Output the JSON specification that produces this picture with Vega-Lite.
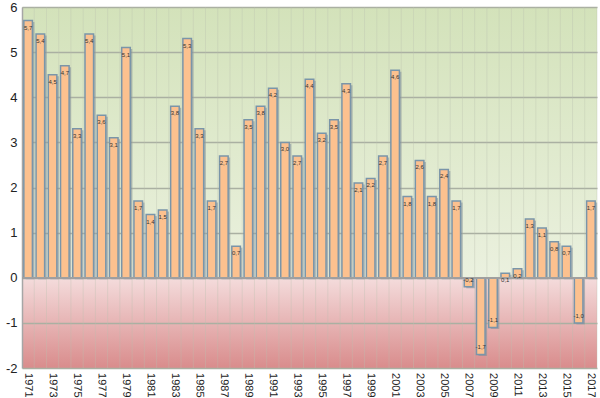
{
  "$schema": "https://vega.github.io/schema/vega-lite/v6.json",
  "width": 575,
  "height": 361,
  "autosize": {"type": "none"},
  "padding": {"left": 22, "top": 7, "right": 3, "bottom": 30},
  "background": "white",
  "view": {
    "stroke": null,
    "fill": {
      "gradient": "linear", "x1": 0, "y1": 0, "x2": 0, "y2": 1,
      "stops": [
        {"offset": 0, "color": "#d3e2ba"},
        {"offset": 0.75, "color": "#ebf1df"},
        {"offset": 0.75, "color": "#f4dcdc"},
        {"offset": 1, "color": "#d98c8c"}
      ]
    }
  },
  "config": {"font": "Liberation Sans"},
  "data": {
    "values": [
      {"year": "1971", "v": 5.7}, {"year": "1972", "v": 5.4}, {"year": "1973", "v": 4.5},
      {"year": "1974", "v": 4.7}, {"year": "1975", "v": 3.3}, {"year": "1976", "v": 5.4},
      {"year": "1977", "v": 3.6}, {"year": "1978", "v": 3.1}, {"year": "1979", "v": 5.1},
      {"year": "1980", "v": 1.7}, {"year": "1981", "v": 1.4}, {"year": "1982", "v": 1.5},
      {"year": "1983", "v": 3.8}, {"year": "1984", "v": 5.3}, {"year": "1985", "v": 3.3},
      {"year": "1986", "v": 1.7}, {"year": "1987", "v": 2.7}, {"year": "1988", "v": 0.7},
      {"year": "1989", "v": 3.5}, {"year": "1990", "v": 3.8}, {"year": "1991", "v": 4.2},
      {"year": "1992", "v": 3.0}, {"year": "1993", "v": 2.7}, {"year": "1994", "v": 4.4},
      {"year": "1995", "v": 3.2}, {"year": "1996", "v": 3.5}, {"year": "1997", "v": 4.3},
      {"year": "1998", "v": 2.1}, {"year": "1999", "v": 2.2}, {"year": "2000", "v": 2.7},
      {"year": "2001", "v": 4.6}, {"year": "2002", "v": 1.8}, {"year": "2003", "v": 2.6},
      {"year": "2004", "v": 1.8}, {"year": "2005", "v": 2.4}, {"year": "2006", "v": 1.7},
      {"year": "2007", "v": -0.2}, {"year": "2008", "v": -1.7}, {"year": "2009", "v": -1.1},
      {"year": "2010", "v": 0.1}, {"year": "2011", "v": 0.2}, {"year": "2012", "v": 1.3},
      {"year": "2013", "v": 1.1}, {"year": "2014", "v": 0.8}, {"year": "2015", "v": 0.7},
      {"year": "2016", "v": -1.0}, {"year": "2017", "v": 1.7}
    ]
  },
  "layer": [
    {
      "mark": {"type": "rule", "color": "#b9bfae", "strokeWidth": 1, "opacity": 0.35, "xOffset": 10.4},
      "encoding": {
        "x": {
          "field": "year", "type": "ordinal", "title": null, "bandPosition": 0,
          "scale": {"paddingInner": 0.3, "paddingOuter": 0.15},
          "axis": {"labels": false, "ticks": false, "domain": false, "grid": false}
        },
        "y": {
          "datum": -2, "type": "quantitative", "title": null,
          "scale": {"domain": [-2, 6], "nice": false, "zero": false},
          "axis": {
            "title": null,
            "values": [-2, -1.5, -1, -0.5, 0, 0.5, 1, 1.5, 2, 2.5, 3, 3.5, 4, 4.5, 5, 5.5, 6],
            "labelExpr": "datum.value % 1 === 0 ? replace(datum.label, '−', '-') : ''",
            "format": "d",
            "labelFontSize": 13, "labelColor": "#222", "labelPadding": 5,
            "ticks": false, "domain": true, "domainColor": "#a6a6a6", "domainWidth": 1.5,
            "grid": true,
            "gridColor": {"condition": {"test": "datum.value % 1 === 0", "value": "#aab0a2"}, "value": "#cdd0c4"},
            "gridWidth": {"condition": {"test": "datum.value % 1 === 0", "value": 1.5}, "value": 1}
          }
        },
        "y2": {"datum": 6}
      }
    },
    {
      "mark": {"type": "bar", "fill": "#7d8d99", "opacity": 0.55, "xOffset": 2, "yOffset": 1.5},
      "encoding": {
        "x": {"field": "year", "type": "ordinal", "title": null},
        "y": {"field": "v", "type": "quantitative", "title": null}
      }
    },
    {
      "mark": {"type": "bar", "fill": "#fcc18f", "stroke": "#7a95a9", "strokeWidth": 1.5},
      "encoding": {
        "x": {"field": "year", "type": "ordinal", "title": null},
        "y": {"field": "v", "type": "quantitative", "title": null}
      }
    },
    {
      "mark": {"type": "rule", "color": "#a0a0a0", "strokeWidth": 1},
      "encoding": {"y": {"datum": 0, "type": "quantitative", "title": null}}
    },
    {
      "transform": [{"filter": "datum.v >= 0"}],
      "mark": {"type": "text", "fontSize": 6, "color": "#333", "baseline": "top", "dy": 4,
               "text": {"expr": "replace(format(datum.v, '.1f'), '.', ',')"}},
      "encoding": {
        "x": {"field": "year", "type": "ordinal", "title": null},
        "y": {"field": "v", "type": "quantitative", "title": null}
      }
    },
    {
      "transform": [{"filter": "datum.v < 0"}],
      "mark": {"type": "text", "fontSize": 6, "color": "#333", "baseline": "bottom", "dy": -4,
               "text": {"expr": "replace(replace(format(datum.v, '.1f'), '.', ','), '−', '-')"}},
      "encoding": {
        "x": {"field": "year", "type": "ordinal", "title": null},
        "y": {"field": "v", "type": "quantitative", "title": null}
      }
    },
    {
      "transform": [{"filter": "(+datum.year) % 2 === 1"}],
      "mark": {"type": "text", "fontSize": 11, "color": "#222", "angle": 89.5, "align": "left", "baseline": "middle", "dx": 5},
      "encoding": {
        "x": {"field": "year", "type": "ordinal", "title": null},
        "y": {"datum": -2, "type": "quantitative", "title": null},
        "text": {"field": "year", "type": "nominal"}
      }
    }
  ]
}
